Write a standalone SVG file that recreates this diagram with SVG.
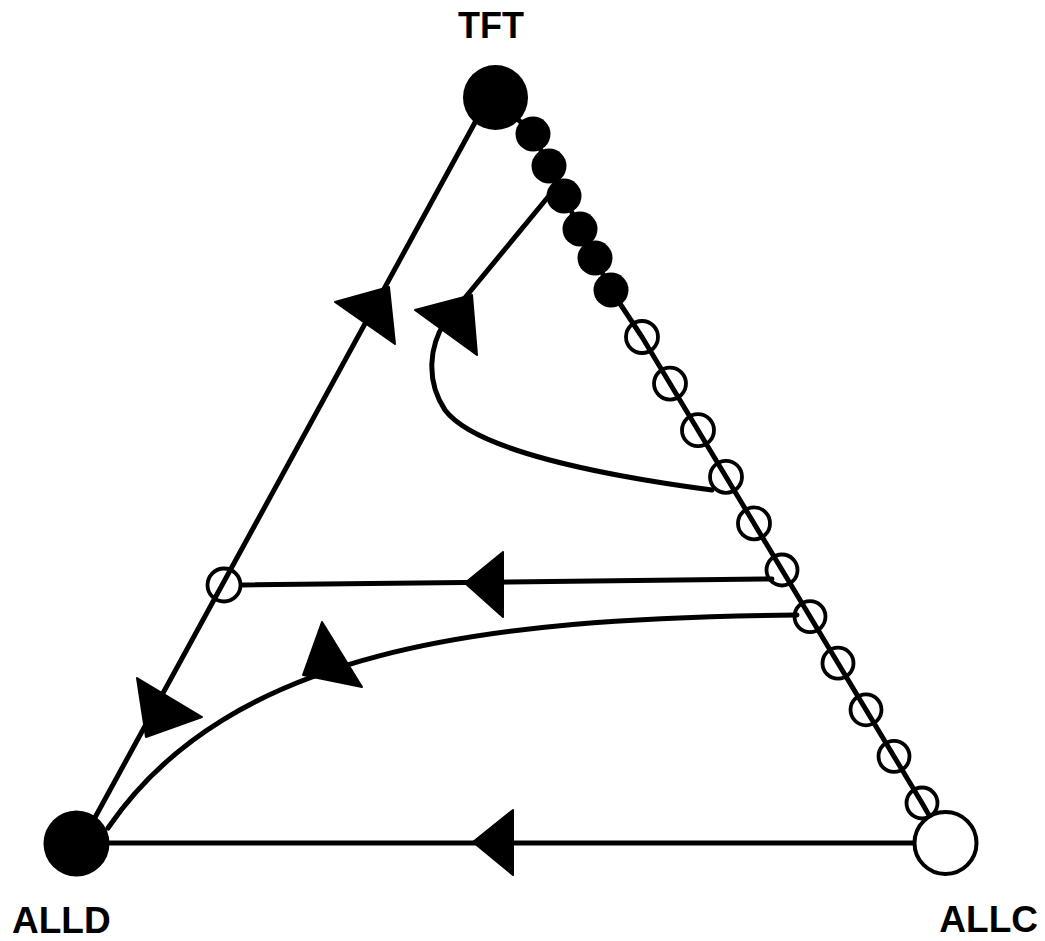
<svg xmlns="http://www.w3.org/2000/svg" width="1045" height="941" viewBox="0 0 1045 941">
<style>
.ln{fill:none;stroke:#000;stroke-width:5;stroke-linecap:round;stroke-linejoin:round}
.ah{fill:#000;stroke:#000;stroke-width:2;stroke-linejoin:round}
.open{fill:none;stroke:#000;stroke-width:3.8}
.opw{fill:#fff;stroke:#000;stroke-width:4}
.fill{fill:#000}
.lbl{font-family:"Liberation Sans",Arial,sans-serif;font-weight:bold;fill:#000}
</style>
<rect width="1045" height="941" fill="#fff"/>
<g id="connectors">
  <polyline class="ln" points="495,97 533,134 549,166 564,196 580,229 595,258 611,290 642,337 922,803 945,843"/>
  <line class="ln" x1="478" y1="117" x2="92" y2="823"/>
  <line class="ln" x1="913" y1="843" x2="100" y2="843"/>
  <line class="ln" x1="242" y1="585" x2="772" y2="579"/>
  <path class="ln" d="M797,615 C480,618 230,650 108,828"/>
  <path class="ln" d="M548,197 L445,322 C430,345 425,380 445,410 C475,450 600,475 712,490"/>
  <polygon class="ah" points="335,302 389,287 395,344"/>
  <polygon class="ah" points="415,310 472,295 477,355"/>
  <polygon class="ah" points="137,678 202,717 146,737"/>
  <polygon class="ah" points="322,622 362,687 303,675"/>
  <polygon class="ah" points="503,552 465,583 503,617"/>
  <polygon class="ah" points="513,810 473,842 513,875"/>
</g>
<g id="TFT">
  <circle class="fill" cx="495.5" cy="97.5" r="32.5"/>
  <text class="lbl" x="491" y="38" font-size="36" text-anchor="middle">TFT</text>
</g>
<g id="ALLD">
  <circle class="fill" cx="76.5" cy="843.5" r="33"/>
  <text class="lbl" x="12" y="933" font-size="37">ALLD</text>
</g>
<g id="ALLC">
  <circle class="opw" cx="945.5" cy="843" r="31"/>
  <text class="lbl" x="1038" y="932" font-size="37" text-anchor="end">ALLC</text>
</g>
<g id="tft-chain">
  <circle class="fill" cx="533" cy="134" r="17.5"/>
  <circle class="fill" cx="549" cy="166" r="17.5"/>
  <circle class="fill" cx="564" cy="196" r="17.5"/>
  <circle class="fill" cx="580" cy="229" r="17.5"/>
  <circle class="fill" cx="595" cy="258" r="17.5"/>
  <circle class="fill" cx="611" cy="290" r="17.5"/>
</g>
<g id="allc-chain">
  <circle class="open" cx="642" cy="337" r="16"/>
  <circle class="open" cx="670" cy="383.6" r="16"/>
  <circle class="open" cx="698" cy="430.2" r="16"/>
  <circle class="open" cx="726" cy="476.8" r="16"/>
  <circle class="open" cx="754" cy="523.4" r="16"/>
  <circle class="open" cx="782" cy="570" r="15.5"/>
  <circle class="open" cx="810" cy="616.6" r="15.5"/>
  <circle class="open" cx="838" cy="663.2" r="15.5"/>
  <circle class="open" cx="866" cy="709.8" r="15.5"/>
  <circle class="open" cx="894" cy="756.4" r="15.5"/>
  <circle class="open" cx="922" cy="803" r="15.5"/>
</g>
<g id="mixed-point">
  <circle class="open" cx="224" cy="585" r="16.5"/>
</g>
</svg>
